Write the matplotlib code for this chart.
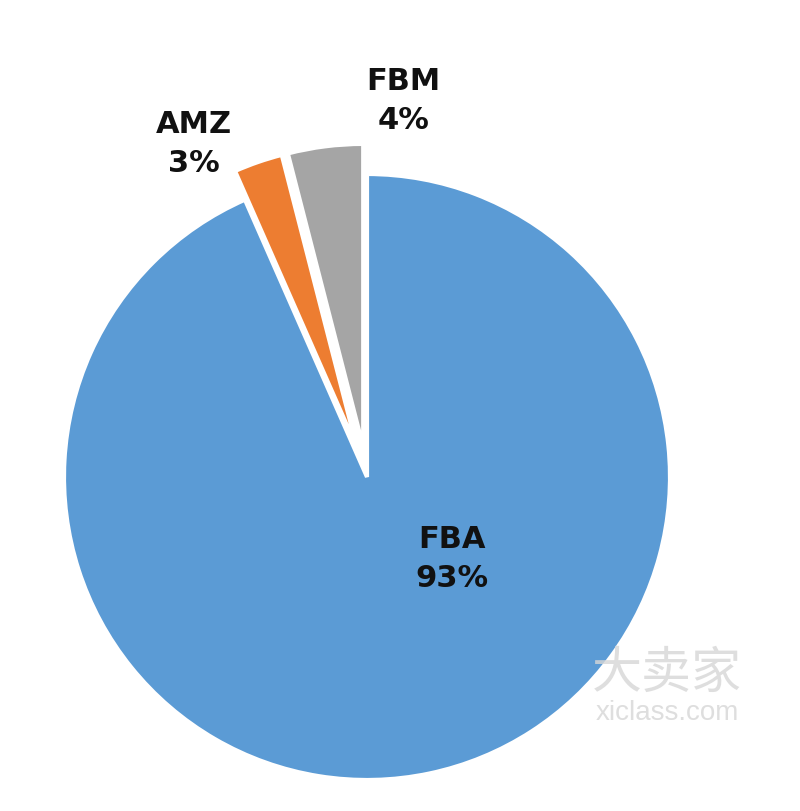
import matplotlib.pyplot as plt

labels = ["FBA", "AMZ", "FBM"]
shares = [93.4, 2.6, 4.0]        # slice sizes
pct_text = ["93%", "3%", "4%"]   # labels as printed
colors = ["#5B9BD5", "#ED7D31", "#A5A5A5"]
explode = [0, 0.1, 0.1]

# label spots in pie units (radius = 1)
label_xy = [(0.28, -0.27), (-0.57, 1.10), (0.12, 1.24)]

fig = plt.figure(figsize=(8, 8.11), dpi=100)
ax = fig.add_axes([0, 0, 1, 1])

ax.pie(shares, colors=colors, explode=explode, startangle=90,
       counterclock=False, radius=1,
       wedgeprops=dict(edgecolor="white", linewidth=3))

for name, pct, (x, y) in zip(labels, pct_text, label_xy):
    ax.text(x, y, f"{name}\n{pct}", ha="center", va="center",
            fontsize=22, fontweight="bold", color="#111111",
            linespacing=1.45, family="DejaVu Sans")

# watermark
ax.text(0.99, -0.65, "大卖家", fontsize=36, color="#d6d6d6", alpha=0.8,
        ha="center", va="center", family=["Noto Sans CJK SC", "DejaVu Sans"])
ax.text(0.99, -0.78, "xiclass.com", fontsize=20, color="#d6d6d6", alpha=0.8,
        ha="center", va="center", family="Liberation Sans")

ax.set_xlim(-367 / 303, 433 / 303)
ax.set_ylim(-334 / 303, 477 / 303)
ax.set_aspect("equal")
ax.axis("off")

fig.savefig("out.png", dpi=100)
